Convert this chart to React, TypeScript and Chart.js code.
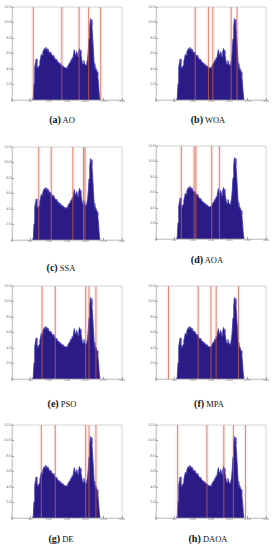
import React, { useEffect, useRef } from "react";
import { Chart, registerables } from "chart.js";

Chart.register(...registerables);

// Gray levels and pixel counts of the image histogram (same image in every panel)
const GRAY_LEVELS = [
  56, 58, 60, 62, 64, 66, 68, 70, 72, 74, 76, 78, 80, 82, 84, 86, 88, 90, 92, 94,
  96, 98, 100, 102, 104, 106, 108, 110, 112, 114, 116, 118, 120, 122, 124, 126,
  128, 130, 132, 134, 136, 138, 140, 142, 144, 146, 148, 150, 152, 154, 156, 158,
  160, 162, 164, 166, 168, 170, 172, 174, 176, 178, 180, 182, 184, 186, 188, 190,
  192, 194, 196, 198, 200, 202, 204, 206, 208, 210, 212, 214, 216, 218, 220, 222,
  224, 226, 228, 230, 232, 234, 236, 238, 240,
];
const PIXEL_COUNTS = [
  0, 30, 210, 420, 480, 530, 455, 400, 420, 445, 500, 540, 590, 575, 620, 640, 665, 650, 680, 655,
  660, 630, 640, 605, 615, 590, 595, 565, 575, 545, 550, 520, 525, 500, 505, 480,
  485, 460, 470, 445, 455, 430, 440, 415, 425, 405, 420, 410, 440, 450, 475, 470,
  510, 500, 545, 530, 600, 650, 590, 570, 625, 600, 555, 620, 665, 640, 590, 530,
  475, 460, 510, 470, 455, 445, 475, 520, 630, 790, 950, 1050, 1035, 950, 810, 640,
  470, 390, 420, 395, 365, 310, 210, 70, 0,
];

// Thresholds found by each algorithm
const ALGORITHMS = ["AO", "WOA", "SSA", "AOA", "PSO", "MPA", "DE", "DAOA"];
const PANEL_LABELS = ["(a)", "(b)", "(c)", "(d)", "(e)", "(f)", "(g)", "(h)"];
const TH_AO = [58, 136, 183, 209, 242];
const TH_WOA = [107, 143, 155, 205, 221];
const TH_SSA = [73, 107, 166, 195, 199];
const TH_AOA = [69, 104, 109, 152, 173];
const TH_PSO = [82, 118, 201, 210, 229];
const TH_MPA = [34, 115, 150, 164, 225];
const TH_DE = [80, 118, 201, 210, 229];
const TH_DAOA = [59, 139, 185, 211, 244];
const THRESHOLDS = [TH_AO, TH_WOA, TH_SSA, TH_AOA, TH_PSO, TH_MPA, TH_DE, TH_DAOA];

const X_MIN = 0;
const X_MAX = 300;
const X_STEP = 50;
const Y_MIN = 0;
const Y_MAX = 1200;
const Y_STEP = 200;

// layout (pixels)
const PLOT_W = 110;
const PLOT_H = 93;
const Y_AXIS_W = 12;
const X_AXIS_H = 10;
const PAD_TOP = 3;
const PAD_RIGHT = 4;
const PANEL_POS = [
  { left: 12, top: 7, capX: 62, capY: 118 },
  { left: 156, top: 7, capX: 208, capY: 118 },
  { left: 12, top: 147, capX: 61, capY: 266 },
  { left: 156, top: 146, capX: 207, capY: 258 },
  { left: 12, top: 286, capX: 62, capY: 402 },
  { left: 156, top: 286, capX: 209, capY: 402 },
  { left: 12, top: 425, capX: 61, capY: 537 },
  { left: 156, top: 425, capX: 208, capY: 537 },
];

const boxPlugin = {
  id: "boxPlugin",
  afterDatasetsDraw(chart: any) {
    const { ctx, chartArea } = chart;
    ctx.save();
    ctx.strokeStyle = "#b8b8b8";
    ctx.lineWidth = 0.6;
    ctx.strokeRect(chartArea.left, chartArea.top, chartArea.right - chartArea.left, chartArea.bottom - chartArea.top);
    ctx.restore();
  },
};

function Panel({ idx }: { idx: number }) {
  const ref = useRef<HTMLCanvasElement>(null);
  const pos = PANEL_POS[idx];
  useEffect(() => {
    if (!ref.current) return;
    const hist = GRAY_LEVELS.map((g, i) => ({ x: g, y: PIXEL_COUNTS[i] }));
    const ths = THRESHOLDS[idx];
    const halos = ths.map((t) => ({
      type: "line" as const,
      data: [{ x: t, y: Y_MIN }, { x: t, y: Y_MAX }],
      borderColor: "rgba(245,140,150,0.13)",
      borderWidth: 4,
      pointRadius: 0,
      fill: false,
      order: 3,
    }));
    const lines = ths.map((t) => ({
      type: "line" as const,
      data: [{ x: t, y: Y_MIN }, { x: t, y: Y_MAX }],
      borderColor: "rgba(205,100,70,0.85)",
      borderWidth: 0.9,
      pointRadius: 0,
      fill: false,
      order: 1,
    }));
    const chart = new Chart(ref.current, {
      type: "line",
      data: {
        datasets: [
          {
            data: hist,
            backgroundColor: "#2b1b86",
            borderColor: "#3b35b0",
            borderWidth: 0.8,
            pointRadius: 0,
            fill: "origin",
            tension: 0,
            order: 2,
          } as any,
          ...halos,
          ...lines,
        ],
      },
      options: {
        responsive: false,
        animation: false,
        events: [],
        layout: { padding: { left: 0, right: PAD_RIGHT, top: PAD_TOP, bottom: 0 } },
        plugins: { legend: { display: false }, tooltip: { enabled: false } },
        scales: {
          x: {
            type: "linear",
            min: X_MIN,
            max: X_MAX,
            ticks: {
              stepSize: X_STEP,
              font: { size: 3.5, family: "DejaVu Sans" },
              color: "#777",
              padding: 1,
              maxRotation: 0,
              callback: (v: any) => String(v),
            },
            grid: { display: true, drawOnChartArea: false, drawTicks: true, tickLength: -2, color: "#999" },
            border: { display: true, color: "#b8b8b8", width: 0.6 },
            afterFit: (s: any) => {
              s.height = X_AXIS_H;
              s.paddingLeft = 0;
              s.paddingRight = 0;
            },
          },
          y: {
            type: "linear",
            min: Y_MIN,
            max: Y_MAX,
            ticks: {
              stepSize: Y_STEP,
              font: { size: 3.5, family: "DejaVu Sans" },
              color: "#777",
              padding: 1,
              callback: (v: any) => String(v),
            },
            grid: { display: true, drawOnChartArea: false, drawTicks: true, tickLength: -2, color: "#999" },
            border: { display: true, color: "#b8b8b8", width: 0.6 },
            afterFit: (s: any) => {
              s.width = Y_AXIS_W;
              s.paddingTop = 0;
              s.paddingBottom = 0;
            },
          },
        },
      } as any,
      plugins: [boxPlugin],
    });
    return () => chart.destroy();
  }, [idx]);

  const cw = Y_AXIS_W + PLOT_W + PAD_RIGHT;
  const ch = PAD_TOP + PLOT_H + X_AXIS_H;
  return (
    <>
      <canvas
        ref={ref}
        width={cw}
        height={ch}
        style={{ position: "absolute", left: pos.left - Y_AXIS_W, top: pos.top - PAD_TOP, width: cw, height: ch }}
      />
      <div
        style={{
          position: "absolute",
          left: pos.capX,
          top: pos.capY - 6,
          transform: "translateX(-50%)",
          whiteSpace: "nowrap",
          fontFamily: "'Liberation Serif', serif",
          lineHeight: "12px",
          color: "#111",
        }}
      >
        <span style={{ fontWeight: "bold", fontSize: 10 }}>{PANEL_LABELS[idx]}</span>
        <span style={{ fontSize: 8.5 }}> {ALGORITHMS[idx]}</span>
      </div>
    </>
  );
}

export default function App() {
  return (
    <div style={{ position: "absolute", left: 0, top: 0, width: 276, height: 550, background: "#fff", overflow: "hidden" }}>
      {ALGORITHMS.map((_, i) => (
        <Panel key={i} idx={i} />
      ))}
    </div>
  );
}
